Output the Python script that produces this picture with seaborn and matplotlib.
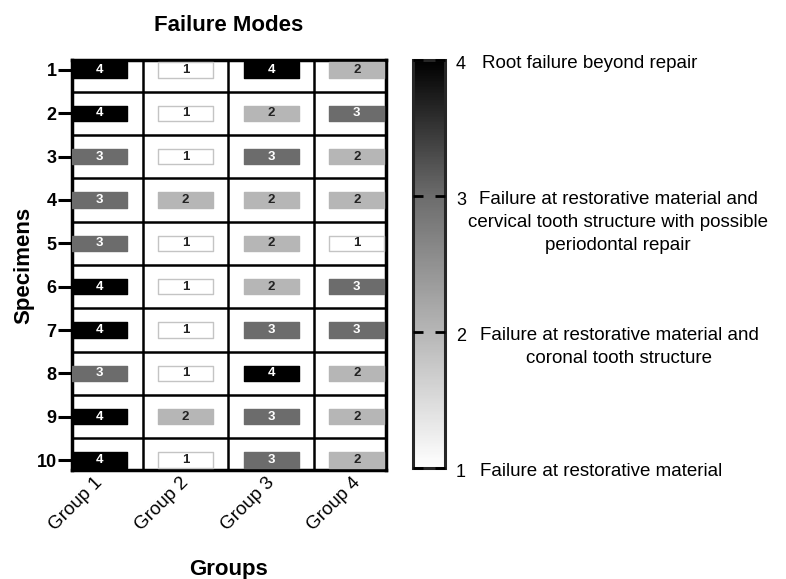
import numpy as np
import pandas as pd
import seaborn as sns
import matplotlib.pyplot as plt
from matplotlib.path import Path
from matplotlib.colors import LinearSegmentedColormap, Normalize
from matplotlib.cm import ScalarMappable
import matplotlib.transforms as mtransforms

groups = ["Group 1", "Group 2", "Group 3", "Group 4"]
specimens = [1, 2, 3, 4, 5, 6, 7, 8, 9, 10]
group1 = [4, 4, 3, 3, 3, 4, 4, 3, 4, 4]
group2 = [1, 1, 1, 2, 1, 1, 1, 1, 2, 1]
group3 = [4, 2, 3, 2, 2, 2, 3, 4, 3, 3]
group4 = [2, 3, 2, 2, 1, 3, 3, 2, 2, 2]

mode_levels = [1, 2, 3, 4]
mode_labels = [
    "Failure at restorative material",
    "Failure at restorative material and\ncoronal tooth structure",
    "Failure at restorative material and\ncervical tooth structure with possible\nperiodontal repair",
    "Root failure beyond repair",
]

df = pd.DataFrame({"specimen": specimens, "Group 1": group1, "Group 2": group2,
                   "Group 3": group3, "Group 4": group4})
df = df.melt(id_vars="specimen", var_name="group", value_name="mode")
df["gx"] = df["group"].map({g: i for i, g in enumerate(groups)})

sns.set_style("white")
plt.rcParams["font.family"] = ["Liberation Sans", "DejaVu Sans"]
for k in ["text.color", "axes.labelcolor", "xtick.color", "ytick.color"]:
    plt.rcParams[k] = "black"

cmap = LinearSegmentedColormap.from_list("fail", ["#ffffff", "#b6b6b6", "#6c6c6c", "#000000"])
norm = Normalize(1, 4)

fig = plt.figure(figsize=(7.86, 5.79), dpi=100)
ax = fig.add_axes([72 / 786, 1 - 470 / 579, 314 / 786, 410 / 579])
cax = fig.add_axes([413 / 786, 1 - 468 / 579, 32 / 786, 408 / 579])

# flat rectangle marker
rect = Path([(-0.5, -0.14), (0.5, -0.14), (0.5, 0.14), (-0.5, 0.14), (-0.5, -0.14)],
            [Path.MOVETO, Path.LINETO, Path.LINETO, Path.LINETO, Path.CLOSEPOLY])
sns.scatterplot(data=df, x="gx", y="specimen", hue="mode", palette=cmap, hue_norm=(1, 4),
                marker=rect, s=1570, legend=False, ax=ax, zorder=3)
coll = ax.collections[0]
edges = ["#c4c4c4" if v == 1 else cmap(norm(v)) for v in df["mode"]]
coll.set_edgecolor(edges)
coll.set_linewidth(1.0)

for _, r in df.iterrows():
    v = r["mode"]
    ax.text(r["gx"], r["specimen"], str(v), ha="center", va="center", fontsize=9.5,
            fontweight="bold", color="white" if v >= 3 else "#222222", zorder=4)

ax.set_xlim(-0.325, 3.34)
ax.set_ylim(10.23, 0.77)
ax.set_xticks(range(len(groups)), groups, rotation=45, ha="right", rotation_mode="anchor")
ax.set_yticks(specimens, [str(s) for s in specimens])
ax.set_xticks(np.arange(0.5, len(groups) - 1), minor=True)
ax.set_yticks(np.arange(1.5, len(specimens)), minor=True)
ax.grid(which="minor", color="black", linewidth=1.8)
ax.grid(which="major", visible=False)
ax.tick_params(axis="x", which="both", length=0, labelsize=13.5, pad=3)
ax.tick_params(axis="y", which="major", length=10, width=2.2, labelsize=13, pad=1, left=True)
ax.tick_params(axis="y", which="minor", length=0)
shift = mtransforms.ScaledTranslation(-4 / 72, 0, fig.dpi_scale_trans)
for lab in ax.get_xticklabels():
    lab.set_transform(lab.get_transform() + shift)
for lab in ax.get_yticklabels():
    lab.set_fontweight("bold")
for sp in ax.spines.values():
    sp.set_linewidth(2.5)
    sp.set_color("black")

ax.set_title("Failure Modes", fontsize=16, fontweight="bold", pad=21)
ax.set_xlabel("Groups", fontsize=16, fontweight="bold")
ax.set_ylabel("Specimens", fontsize=16, fontweight="bold")
ax.xaxis.set_label_coords(0.5, -0.216)
ax.yaxis.set_label_coords(-0.12, 0.5)

cbar = fig.colorbar(ScalarMappable(norm=norm, cmap=cmap), cax=cax)
cbar.set_ticks(mode_levels, labels=[str(m) for m in mode_levels])
cbar.outline.set_linewidth(2.2)
cax.set_axisbelow(False)
cax.yaxis.set_ticks_position("both")
cax.tick_params(axis="y", which="major", direction="in", length=7, width=2, labelsize=13,
                pad=8, left=True, right=True, labelleft=False, labelright=True, color="black")
tshift = mtransforms.ScaledTranslation(0, -2 / 72, fig.dpi_scale_trans)
for lab in cax.get_yticklabels():
    lab.set_transform(lab.get_transform() + tshift)

desc_left_px = [480, 480, 468, 482]
trans = mtransforms.blended_transform_factory(cax.transAxes, cax.transData)
trans = mtransforms.offset_copy(trans, fig=fig, y=3.5, units="points")
for lvl, txt, xp in zip(mode_levels, mode_labels, desc_left_px):
    cax.text((xp - 413) / 32, lvl, txt, transform=trans, ha="left", va="top",
             multialignment="center", fontsize=13.5, clip_on=False, linespacing=1.45)

fig.savefig("out.png", dpi=100)
